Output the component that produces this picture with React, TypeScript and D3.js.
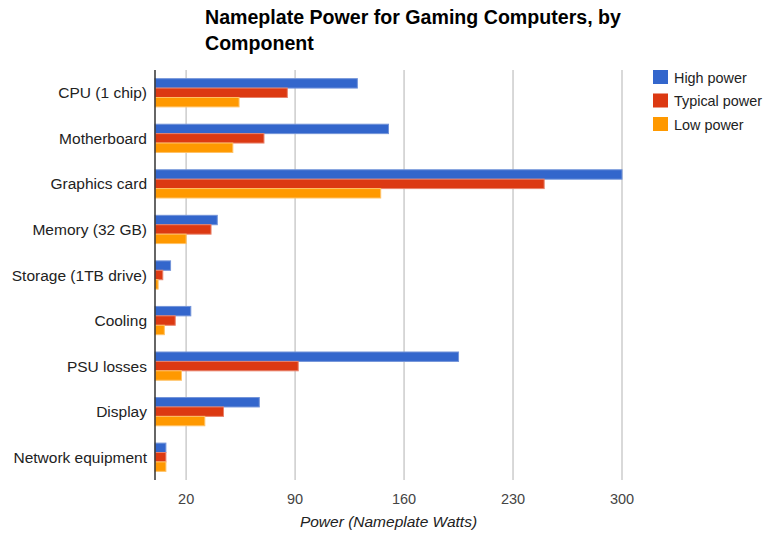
import React from "react";
import * as d3 from "d3";

const categories = [
  "CPU (1 chip)",
  "Motherboard",
  "Graphics card",
  "Memory (32 GB)",
  "Storage (1TB drive)",
  "Cooling",
  "PSU losses",
  "Display",
  "Network equipment",
];
const seriesNames = ["High power", "Typical power", "Low power"];
const highPower = [130, 150, 300, 40, 10, 23, 195, 67, 7];
const typicalPower = [85, 70, 250, 36, 5, 13, 92, 44, 7];
const lowPower = [54, 50, 145, 20, 2, 6, 17, 32, 7];
const tickValues = [20, 90, 160, 230, 300];
const colors = ["#3366cc", "#dc3912", "#ff9900"];
const strokes = ["#7394d9", "#e8826b", "#ffc266"];

const W = 764;
const H = 534;
const plot = { left: 155, right: 622, top: 70, bottom: 480 };
const font = "'Liberation Sans', Arial, sans-serif";

export default function App() {
  const series = [highPower, typicalPower, lowPower];
  const x = d3.scaleLinear().domain([0, 300]).range([plot.left, plot.right]);
  const y = d3
    .scaleBand<string>()
    .domain(categories)
    .range([plot.top, plot.bottom])
    .paddingInner(0.38)
    .paddingOuter(0.19);
  const inner = d3
    .scaleBand<number>()
    .domain([0, 1, 2])
    .range([0, y.bandwidth()]);

  return (
    <svg
      width={W}
      height={H}
      style={{ position: "absolute", left: 0, top: 0, background: "#fff" }}
      fontFamily={font}
    >
      <rect width={W} height={H} fill="#fff" />
      <text x={205} y={24} fontSize={19.6} fontWeight="bold" fill="#000">
        Nameplate Power for Gaming Computers, by
      </text>
      <text x={205} y={50} fontSize={19.6} fontWeight="bold" fill="#000">
        Component
      </text>

      {tickValues.map((t) => (
        <g key={t}>
          <line
            x1={x(t)}
            x2={x(t)}
            y1={plot.top}
            y2={plot.bottom}
            stroke="#cccccc"
            strokeWidth={1.5}
          />
          <text
            x={x(t)}
            y={504}
            textAnchor="middle"
            fontSize={14.5}
            fill="#444"
          >
            {t}
          </text>
        </g>
      ))}

      {categories.map((c, i) => (
        <g key={c}>
          {series.map((s, k) => (
            <rect
              key={k}
              x={x(0)}
              y={(y(c) as number) + (inner(k) as number)}
              width={x(s[i]) - x(0)}
              height={inner.bandwidth()}
              fill={colors[k]}
              stroke={strokes[k]}
              strokeWidth={1}
            />
          ))}
          <text
            x={147}
            y={(y(c) as number) + y.bandwidth() / 2 + 5.5}
            textAnchor="end"
            fontSize={15.5}
            fill="#222"
          >
            {c}
          </text>
        </g>
      ))}

      <line
        x1={x(0)}
        x2={x(0)}
        y1={plot.top}
        y2={plot.bottom}
        stroke="#333"
        strokeWidth={1.5}
      />

      <text
        x={(plot.left + plot.right) / 2}
        y={527}
        textAnchor="middle"
        fontSize={15.5}
        fontStyle="italic"
        fill="#222"
      >
        Power (Nameplate Watts)
      </text>

      {seriesNames.map((n, k) => (
        <g key={n}>
          <rect
            x={653}
            y={70 + k * 23.5}
            width={15}
            height={14}
            fill={colors[k]}
          />
          <text x={674} y={82.5 + k * 23.5} fontSize={14.4} fill="#222">
            {n}
          </text>
        </g>
      ))}
    </svg>
  );
}
